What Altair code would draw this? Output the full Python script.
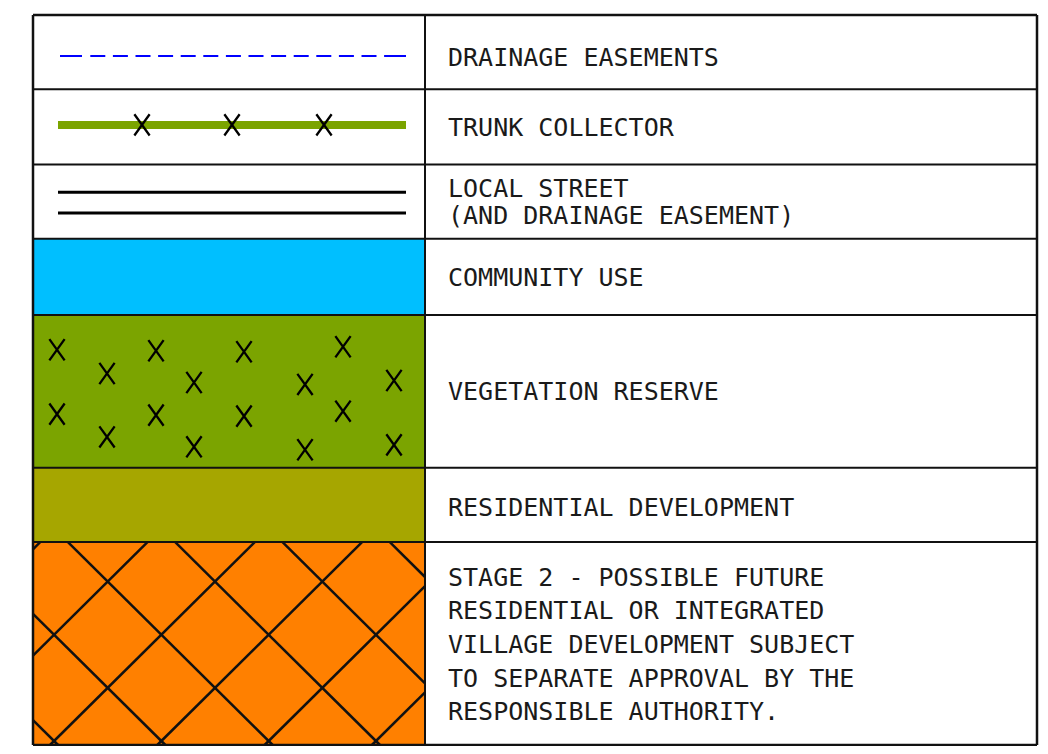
import altair as alt
import pandas as pd

# ---------------- data ----------------
col_edges = [33, 425, 1037]                       # left, divider, right
row_edges = [14, 89, 165, 240, 317, 471, 546, 751]  # row boundaries
row_kind = ["drainage", "trunk", "street", "community", "vegetation", "residential", "stage2"]
row_labels = [
    ["DRAINAGE EASEMENTS"],
    ["TRUNK COLLECTOR"],
    ["LOCAL STREET", "(AND DRAINAGE EASEMENT)"],
    ["COMMUNITY USE"],
    ["VEGETATION RESERVE"],
    ["RESIDENTIAL DEVELOPMENT"],
    ["STAGE 2 - POSSIBLE FUTURE",
     "RESIDENTIAL OR INTEGRATED",
     "VILLAGE DEVELOPMENT SUBJECT",
     "TO SEPARATE APPROVAL BY THE",
     "RESPONSIBLE AUTHORITY."],
]
trunk_x_marks = [142, 232, 324]
veg_x = [57, 107, 156, 194, 244, 305, 343, 394, 57, 107, 156, 194, 244, 305, 343, 394]
veg_y = [352, 376, 353, 385, 354, 387, 349, 383, 417, 440, 418, 450, 419, 453, 414, 448]
street_lines_y = [193, 214]
hatch_spacing = 107.3
hatch_offset_a = 693.7    # x + y = c
hatch_offset_b = -478.3   # x - y = c

# ---------------- styles ----------------
fill_colors = {"community": "#00BFFF", "vegetation": "#7BA400",
               "residential": "#A6A600", "stage2": "#FF8000"}
line_gap = {"street": 27, "stage2": 33.6}
FONT = "DejaVu Sans Mono"
INK = "#111111"
TEXT_INK = "#1a1a1a"

XS = alt.Scale(domain=[8, 1040], nice=False, zero=False)
YS = alt.Scale(domain=[7, 752], nice=False, zero=False, reverse=True)


def X(f="x"):
    return alt.X(f"{f}:Q", scale=XS, axis=None)


def Y(f="y"):
    return alt.Y(f"{f}:Q", scale=YS, axis=None)


left, mid, right = col_edges
sym_x0, sym_x1 = left + 25, mid - 19

# filled cells
fills = pd.DataFrame([
    {"x": left, "x2": mid, "y": row_edges[i], "y2": row_edges[i + 1], "kind": k}
    for i, k in enumerate(row_kind) if k in fill_colors
])
fill_layer = alt.Chart(fills).mark_rect(stroke=None).encode(
    x=X(), x2="x2:Q", y=Y(), y2="y2:Q",
    color=alt.Color("kind:N", scale=alt.Scale(domain=list(fill_colors),
                                               range=list(fill_colors.values())), legend=None),
)

# cross hatch in stage 2 cell
hx0, hx1 = left, mid
hy0, hy1 = row_edges[6], row_edges[7]
segs = []
for k in range(-12, 13):
    c = hatch_offset_a + k * hatch_spacing
    lo, hi = max(hx0, c - hy1), min(hx1, c - hy0)
    if hi - lo > 0.5:
        segs.append({"x": lo, "y": c - lo, "x2": hi, "y2": c - hi})
    c = hatch_offset_b + k * hatch_spacing
    lo, hi = max(hx0, c + hy0), min(hx1, c + hy1)
    if hi - lo > 0.5:
        segs.append({"x": lo, "y": lo - c, "x2": hi, "y2": hi - c})
hatch_layer = alt.Chart(pd.DataFrame(segs)).mark_rule(color=INK, strokeWidth=2.5).encode(
    x=X(), y=Y(), x2="x2:Q", y2="y2:Q")

# drainage easement dashed line
drain_y = (row_edges[0] + row_edges[1]) / 2 + 4
drain = pd.DataFrame({"x": [sym_x0 + 2], "x2": [sym_x1], "y": [drain_y]})
dash = [22, 8.3] + [15, 7.6] * 13 + [22, 10]
drain_layer = alt.Chart(drain).mark_rule(color="#0000FF", strokeWidth=2, strokeDash=dash).encode(
    x=X(), x2="x2:Q", y=Y())

# trunk collector line
trunk_y = (row_edges[1] + row_edges[2]) / 2 - 2
trunk = pd.DataFrame({"x": [sym_x0], "x2": [sym_x1], "y": [trunk_y]})
trunk_layer = alt.Chart(trunk).mark_rule(color="#7BA400", strokeWidth=8).encode(
    x=X(), x2="x2:Q", y=Y())

# X marks
X_PATH = "M-0.72,-1L0.72,1M0.72,-1L-0.72,1"
xmarks = pd.DataFrame({"x": trunk_x_marks + veg_x,
                       "y": [trunk_y] * len(trunk_x_marks) + veg_y})
xmark_layer = alt.Chart(xmarks).mark_point(
    shape=X_PATH, size=450, filled=False, stroke="#000000", strokeWidth=2.3, opacity=1
).encode(x=X(), y=Y())

# local street double line
street = pd.DataFrame({"x": [sym_x0] * 2, "x2": [sym_x1] * 2, "y": street_lines_y})
street_layer = alt.Chart(street).mark_rule(color="#000000", strokeWidth=3).encode(
    x=X(), x2="x2:Q", y=Y())

# grid lines
h_lines = pd.DataFrame({"x": [left] * len(row_edges), "x2": [right] * len(row_edges),
                        "y": row_edges,
                        "w": [2.5] + [2] * (len(row_edges) - 2) + [2.5]})
h_layer = alt.Chart(h_lines).mark_rule(color=INK).encode(
    x=X(), x2="x2:Q", y=Y(),
    strokeWidth=alt.StrokeWidth("w:Q", scale=None, legend=None))
v_lines = pd.DataFrame({"x": col_edges, "y": [row_edges[0]] * 3, "y2": [row_edges[-1]] * 3,
                        "w": [2.5, 2, 2.5]})
v_layer = alt.Chart(v_lines).mark_rule(color=INK).encode(
    x=X(), y=Y(), y2="y2:Q",
    strokeWidth=alt.StrokeWidth("w:Q", scale=None, legend=None))

# labels: one text mark per row (multi-line rows as a single block)
CAP = 18
single, multi = [], {}
for i, (k, lines) in enumerate(zip(row_kind, row_labels)):
    centre = (row_edges[i] + row_edges[i + 1]) / 2
    if k == "drainage":
        centre += 5
    if k == "residential":
        centre += 2
    gap = line_gap.get(k, 0)
    n = len(lines)
    y_first = centre - (n - 1) / 2 * gap + CAP / 2
    if n == 1:
        single.append({"x": mid + 23, "y": y_first, "t": lines[0]})
    else:
        multi[k] = {"x": mid + 23, "y": y_first, "t": lines}

text_layers = [alt.Chart(pd.DataFrame(single)).mark_text(
    align="left", baseline="alphabetic", font=FONT, fontSize=25, color=TEXT_INK
).encode(x=X(), y=Y(), text="t:N")]
for k, rec in multi.items():
    text_layers.append(
        alt.Chart(alt.Data(values=[rec])).mark_text(
            align="left", baseline="alphabetic", font=FONT, fontSize=25,
            color=TEXT_INK, lineHeight=line_gap[k]
        ).encode(x=X(), y=Y(), text="t:N")
    )

chart = alt.layer(
    fill_layer, hatch_layer, drain_layer, trunk_layer, street_layer, xmark_layer,
    h_layer, v_layer, *text_layers
).properties(
    width=1032, height=738, padding=0, autosize=alt.AutoSizeParams(type="none")
).configure_view(strokeWidth=0)

chart.save("out.html", embed_options={"renderer": "svg", "actions": False})
